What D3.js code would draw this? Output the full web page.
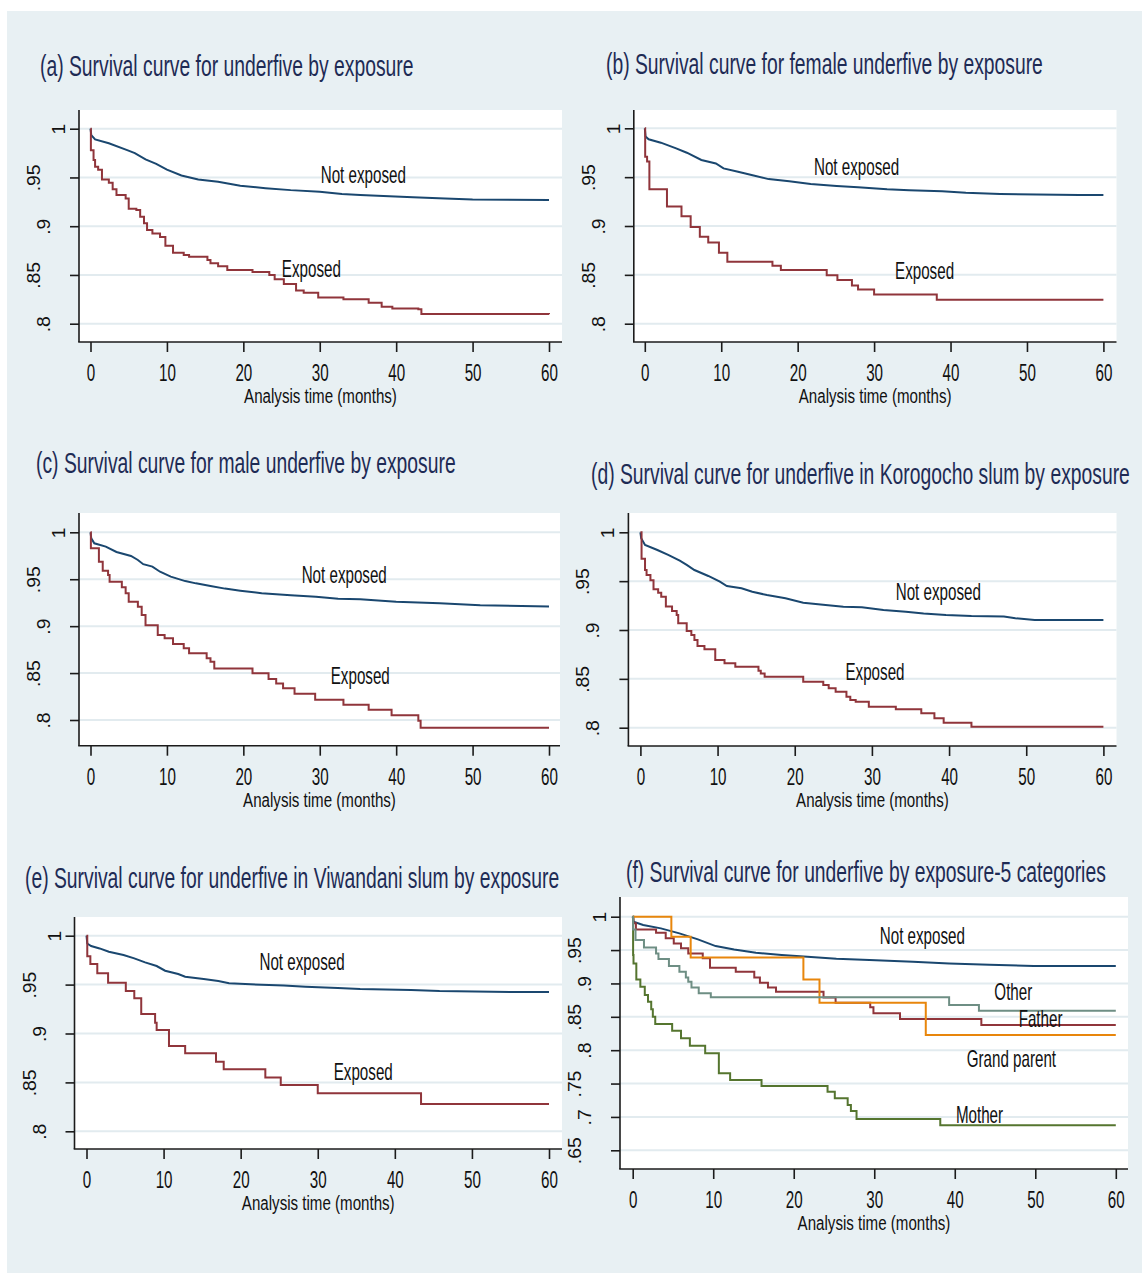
<!DOCTYPE html>
<html><head><meta charset="utf-8">
<script src="https://cdn.jsdelivr.net/npm/d3@7"></script>
<style>body{margin:0;background:#fff}svg{display:block}</style>
</head><body>
<svg id="c" width="1142" height="1273"></svg>
<script>
// ---------------- DATA ----------------
const xTicks = [0, 10, 20, 30, 40, 50, 60];
const xTickLabels = ["0", "10", "20", "30", "40", "50", "60"];
const yTicksMain = [1, 0.95, 0.9, 0.85, 0.8];
const yTickLabelsMain = ["1", ".95", ".9", ".85", ".8"];
const yTicksF = [1, 0.95, 0.9, 0.85, 0.8, 0.75, 0.7, 0.65];
const yTickLabelsF = ["1", ".95", ".9", ".85", ".8", ".75", ".7", ".65"];
const xAxisTitle = "Analysis time (months)";

const titles = [
  "(a) Survival curve for underfive by exposure",
  "(b) Survival curve for female underfive by exposure",
  "(c) Survival curve for male underfive by exposure",
  "(d) Survival curve for underfive in Korogocho slum by exposure",
  "(e) Survival curve for underfive in Viwandani slum by exposure",
  "(f) Survival curve for underfive by exposure-5 categories"
];

// [time (months), survival]
const a_notExposed = [[0,1],[0.1,0.9935],[0.6,0.989],[2.4,0.985],[4.8,0.978],[5.8,0.975],[7.2,0.9685],[8.6,0.964],[10,0.958],[11.9,0.952],[14.1,0.948],[16.7,0.9456],[19.6,0.9415],[22.9,0.939],[26.2,0.937],[30,0.9354],[32.9,0.933],[35.3,0.932],[39.1,0.9306],[42.2,0.9296],[46.4,0.9285],[50,0.9275],[60,0.9268]];
const a_exposed = [[0,1],[0.05,0.978],[0.4,0.968],[0.6,0.961],[1,0.958],[1.5,0.948],[2.4,0.9446],[2.9,0.938],[3.4,0.932],[4.6,0.9285],[5,0.918],[6,0.9166],[6.5,0.9097],[7,0.903],[7.4,0.896],[8.1,0.8926],[9.1,0.889],[9.8,0.88],[10.8,0.8728],[12.2,0.8704],[12.9,0.8687],[15.3,0.8653],[15.7,0.862],[16.7,0.859],[17.9,0.855],[21.2,0.853],[23.4,0.85],[24.1,0.8455],[25.3,0.8407],[26.9,0.834],[27.9,0.8318],[29.8,0.827],[33.1,0.825],[36.4,0.8215],[38.1,0.8174],[39.5,0.8157],[42.9,0.8147],[43.3,0.81],[60,0.8096]];

const b_notExposed = [[0,1],[0.1,0.9915],[0.5,0.9887],[2.1,0.9853],[4.1,0.9795],[5.5,0.975],[7.4,0.9676],[9.3,0.964],[10.3,0.959],[12.2,0.9556],[14.1,0.952],[16.2,0.948],[18.9,0.9457],[21.7,0.943],[25.1,0.941],[27.9,0.9396],[31.7,0.9375],[34.6,0.9365],[38.9,0.9355],[42,0.934],[46.5,0.9328],[56.8,0.9317],[60,0.9317]];
const b_exposed = [[0,1],[0.05,0.971],[0.3,0.966],[0.6,0.9375],[2.9,0.92],[4.8,0.91],[6,0.899],[7.2,0.889],[8.3,0.883],[9.7,0.8727],[10.8,0.8635],[16.7,0.8594],[17.8,0.855],[23.8,0.8495],[25.2,0.8447],[27.1,0.839],[27.9,0.835],[30,0.83],[38.2,0.8246],[60,0.8246]];

const c_notExposed = [[0,1],[0.1,0.9936],[0.5,0.9883],[2,0.9847],[3.4,0.979],[5.3,0.9748],[6.2,0.9705],[6.9,0.966],[8.1,0.9634],[9.1,0.958],[10.5,0.9528],[12.4,0.948],[13.8,0.9456],[15.7,0.9428],[17.6,0.94],[19.6,0.9378],[22.4,0.935],[26.2,0.933],[29.5,0.9314],[32.4,0.9293],[35.3,0.9286],[38.1,0.927],[40,0.926],[45.7,0.9243],[51,0.9222],[60,0.921]];
const c_exposed = [[0,1],[0.05,0.983],[1.1,0.9687],[1.6,0.959],[2.3,0.9545],[2.5,0.9474],[4.1,0.9414],[4.6,0.935],[5,0.926],[6.2,0.9208],[6.7,0.912],[7.2,0.901],[8.8,0.8906],[9.7,0.887],[10.8,0.881],[12.2,0.8764],[12.9,0.871],[15.2,0.8657],[15.7,0.862],[16.2,0.855],[21.2,0.8497],[23.3,0.8437],[24.3,0.839],[25.2,0.8337],[26.7,0.828],[29.4,0.8216],[33.1,0.8163],[36.4,0.811],[39.4,0.805],[42.9,0.7993],[43.2,0.7918],[60,0.7918]];

const d_notExposed = [[0,1],[0.1,0.9939],[0.6,0.987],[2.2,0.9819],[3.6,0.9768],[5.1,0.971],[6,0.9666],[7,0.9614],[8.8,0.9553],[10.3,0.9495],[11.2,0.945],[13.1,0.9427],[14.5,0.9392],[16.4,0.9358],[18.8,0.9324],[21.1,0.928],[24,0.9256],[26.3,0.9239],[28.7,0.9232],[31.5,0.9205],[34.4,0.9188],[36.7,0.917],[39.6,0.9154],[42.9,0.9143],[47.1,0.9137],[48.6,0.912],[51.1,0.9102],[60,0.9102]];
const d_exposed = [[0,1],[0.15,0.973],[0.6,0.9614],[0.8,0.9563],[1.3,0.951],[1.7,0.9416],[2.3,0.9382],[2.7,0.934],[3.3,0.924],[4.1,0.9195],[4.7,0.9154],[4.9,0.9068],[6,0.899],[6.6,0.8949],[7,0.8898],[7.4,0.8836],[8.3,0.8802],[9.7,0.8693],[10.9,0.8659],[12.3,0.8625],[15.3,0.8584],[15.6,0.8556],[16.1,0.8522],[21.1,0.8471],[23.7,0.8437],[24.4,0.8403],[25.3,0.8369],[26.7,0.8317],[27.2,0.8283],[27.9,0.8266],[29.6,0.8215],[33.1,0.8188],[36.4,0.8147],[38.1,0.8096],[39.3,0.8051],[42.9,0.801],[60,0.801]];

const e_notExposed = [[0,1],[0.1,0.992],[0.6,0.9894],[1.7,0.987],[2.9,0.9836],[4.8,0.9802],[6.2,0.9768],[7.6,0.9727],[9.1,0.969],[10.2,0.9642],[11.9,0.9608],[12.8,0.958],[15.2,0.9557],[17.1,0.9537],[18.5,0.9513],[21.3,0.9503],[25.6,0.9492],[28.4,0.9479],[32.6,0.9465],[35.5,0.9455],[42.1,0.9445],[45.8,0.9434],[55.8,0.9424],[60,0.9424]];
const e_exposed = [[0,1],[0.1,0.979],[0.5,0.971],[1.4,0.9615],[2.8,0.952],[5.1,0.9434],[6.2,0.936],[7.1,0.92],[8.9,0.911],[9.1,0.9036],[10.7,0.8872],[12.8,0.8797],[16.8,0.8712],[17.8,0.8634],[23.2,0.8549],[25.2,0.8474],[30,0.8388],[43.4,0.828],[60,0.828]];

const f_notExposed = [[0,1],[0.1,0.9925],[1.3,0.9875],[3.5,0.9825],[5.8,0.975],[8.1,0.966],[10.3,0.956],[12.6,0.951],[15.3,0.946],[18.5,0.9426],[21.7,0.94],[25.3,0.937],[29.4,0.935],[34.8,0.9326],[39.3,0.93],[44.3,0.928],[49.8,0.926],[60,0.926]];
const f_father = [[0,1],[0.1,0.99],[0.4,0.981],[2.9,0.976],[4.1,0.9676],[5.1,0.96],[6,0.9526],[6.9,0.945],[8.7,0.9376],[9.6,0.9236],[12.8,0.9176],[15.1,0.909],[15.8,0.901],[16.8,0.894],[17.8,0.8877],[23.7,0.879],[25.2,0.8712],[29.5,0.8642],[29.9,0.8552],[33.2,0.8467],[43.3,0.8377],[60,0.8377]];
const f_mother = [[0,1],[0.05,0.9426],[0.1,0.93],[0.45,0.906],[0.95,0.895],[1.5,0.8827],[1.9,0.8727],[2.3,0.8612],[2.5,0.8502],[2.8,0.8392],[4.9,0.8293],[6,0.8178],[7.1,0.8068],[9,0.7953],[10.7,0.7654],[12.1,0.7554],[16,0.7464],[24.2,0.7379],[25.1,0.7279],[26.7,0.7179],[27.1,0.7089],[27.8,0.697],[38.2,0.6875],[60,0.6875]];
const f_grandParent = [[0,1],[4.8,0.97],[7.2,0.939],[21.2,0.906],[23.2,0.8712],[36.4,0.8228],[60,0.8228]];
const f_other = [[0,1],[0.05,0.981],[0.35,0.965],[1.4,0.954],[2.9,0.945],[3.2,0.9366],[4.5,0.926],[5.8,0.9176],[6.6,0.909],[6.9,0.9026],[7.3,0.894],[8.2,0.8852],[9.7,0.8792],[39.3,0.8677],[43,0.8592],[60,0.8592]];

// curve labels: [text, time, survival]
const labels_a = [["Not exposed", 35.7, 0.9515], ["Exposed", 28.9, 0.855]];
const labels_b = [["Not exposed", 27.7, 0.9594], ["Exposed", 36.6, 0.853]];
const labels_c = [["Not exposed", 33.2, 0.9534], ["Exposed", 35.3, 0.8461]];
const labels_d = [["Not exposed", 38.6, 0.9376], ["Exposed", 30.4, 0.8557]];
const labels_e = [["Not exposed", 27.96, 0.9718], ["Exposed", 35.9, 0.8593]];
const labels_f = [["Not exposed", 35.97, 0.970], ["Other", 47.27, 0.8852], ["Father", 50.66, 0.8452], ["Grand parent", 47.03, 0.7853], ["Mother", 43.07, 0.7014]];

// ---------------- STYLE / LAYOUT ----------------
const BG = "#e8f0f3", GRID = "#e2ebef", AX = "#1b1b1b";
const NAVY = "#1a476f", MAROON = "#90353b", GREEN = "#55752f", ORANGE = "#e8860c", TEAL = "#6e8e84";
const FONT = "'Liberation Sans', Arial, Helvetica, sans-serif";
const SQ = 0.66;

const panels = [
  {title: titles[0], tx: 40, ty: 76, rect: [79, 562, 110, 342], xr: [90.5, 549], yd: [0.8, 1], yr: [323.7, 128.7], yt: yTicksMain, yl: yTickLabelsMain,
   series: [[a_notExposed, NAVY, true], [a_exposed, MAROON, false]], labels: labels_a},
  {title: titles[1], tx: 606, ty: 74, rect: [633.8, 1116.5, 110, 342], xr: [644.8, 1103.4], yd: [0.8, 1], yr: [323.7, 128.3], yt: yTicksMain, yl: yTickLabelsMain,
   series: [[b_notExposed, NAVY, true], [b_exposed, MAROON, false]], labels: labels_b},
  {title: titles[2], tx: 36, ty: 473, rect: [79, 560, 513, 745.7], xr: [90.5, 549], yd: [0.8, 1], yr: [720, 532.3], yt: yTicksMain, yl: yTickLabelsMain,
   series: [[c_notExposed, NAVY, true], [c_exposed, MAROON, false]], labels: labels_c},
  {title: titles[3], tx: 591, ty: 484, rect: [628.4, 1116.5, 513, 746], xr: [640.4, 1103.4], yd: [0.8, 1], yr: [727.7, 532.3], yt: yTicksMain, yl: yTickLabelsMain,
   series: [[d_notExposed, NAVY, true], [d_exposed, MAROON, false]], labels: labels_d},
  {title: titles[4], tx: 25, ty: 888, rect: [74.5, 562, 917, 1149], xr: [86.5, 549], yd: [0.8, 1], yr: [1131.3, 935.7], yt: yTicksMain, yl: yTickLabelsMain,
   series: [[e_notExposed, NAVY, true], [e_exposed, MAROON, false]], labels: labels_e},
  {title: titles[5], tx: 626, ty: 882, rect: [620, 1128, 897, 1169], xr: [632.7, 1115.8], yd: [0.65, 1], yr: [1150.3, 916.7], yt: yTicksF, yl: yTickLabelsF,
   series: [[f_notExposed, NAVY, true], [f_father, MAROON, false], [f_mother, GREEN, false], [f_grandParent, ORANGE, false], [f_other, TEAL, false]], labels: labels_f}
];

const yLabOff = {1: 14, 2: 29, 3: 39};

// ---------------- DRAW ----------------
const svg = d3.select("#c");
svg.append("rect").attr("x", 7).attr("y", 11).attr("width", 1135).attr("height", 1262).attr("fill", BG);

panels.forEach(p => {
  const g = svg.append("g");
  const [rx0, rx1, ry0, ry1] = p.rect;
  const x = d3.scaleLinear().domain([0, 60]).range(p.xr);
  const y = d3.scaleLinear().domain(p.yd).range(p.yr);

  g.append("rect").attr("x", rx0).attr("y", ry0).attr("width", rx1 - rx0).attr("height", ry1 - ry0).attr("fill", "#fff");

  g.selectAll("line.grid").data(p.yt).join("line").attr("class", "grid")
    .attr("x1", rx0).attr("x2", rx1).attr("y1", d => y(d)).attr("y2", d => y(d))
    .attr("stroke", GRID).attr("stroke-width", 2);

  const stepLine = d3.line().x(d => x(d[0])).y(d => y(d[1])).curve(d3.curveStepAfter);
  const smoothLine = d3.line().x(d => x(d[0])).y(d => y(d[1])).curve(d3.curveLinear);
  p.series.forEach(([data, col, smooth]) => {
    g.append("path").attr("d", (smooth ? smoothLine : stepLine)(data)).attr("fill", "none").attr("stroke", col)
      .attr("stroke-width", 2).attr("stroke-linejoin", "miter");
  });

  // x axis
  const gx = g.append("g").attr("transform", `translate(0,${ry1})`)
    .call(d3.axisBottom(x).tickValues(xTicks).tickSize(10).tickSizeOuter(0).tickFormat((d, i) => xTickLabels[i]));
  gx.select(".domain").remove();
  gx.selectAll(".tick line").attr("stroke", AX).attr("stroke-width", 1.6);
  gx.selectAll(".tick text").attr("y", 39).attr("dy", null).attr("transform", `scale(${SQ},1)`)
    .attr("fill", "#111").attr("font-family", FONT).attr("font-size", 23);

  // y axis
  const gy = g.append("g").attr("transform", `translate(${rx0},0)`)
    .call(d3.axisLeft(y).tickValues(p.yt).tickSize(9).tickSizeOuter(0).tickFormat((d, i) => p.yl[i]));
  gy.select(".domain").remove();
  gy.selectAll(".tick line").attr("stroke", AX).attr("stroke-width", 1.6);
  gy.selectAll(".tick text").attr("x", 0).attr("dy", null).attr("text-anchor", "middle")
    .attr("transform", (d, i) => `translate(${-yLabOff[p.yl[i].length]},0) rotate(-90) scale(0.84,0.82)`)
    .attr("fill", "#111").attr("font-family", FONT).attr("font-size", 23);

  // axis lines
  g.append("line").attr("x1", rx0).attr("x2", rx0).attr("y1", ry0).attr("y2", ry1).attr("stroke", AX).attr("stroke-width", 1.6);
  g.append("line").attr("x1", rx0 - 0.8).attr("x2", rx1).attr("y1", ry1).attr("y2", ry1).attr("stroke", AX).attr("stroke-width", 1.6);

  // axis title
  g.append("text").attr("transform", `translate(${(rx0 + rx1) / 2},${ry1 + 61}) scale(0.72,1)`)
    .attr("text-anchor", "middle").attr("font-family", FONT).attr("font-size", 21).attr("fill", "#111").text(xAxisTitle);

  // curve labels
  p.labels.forEach(([t, tm, sv]) => {
    g.append("text").attr("transform", `translate(${x(tm)},${y(sv)}) scale(${SQ},1)`)
      .attr("dy", "0.3em").attr("text-anchor", "middle").attr("font-family", FONT).attr("font-size", 23)
      .attr("fill", "#111").text(t);
  });

  // panel title
  g.append("text").attr("transform", `translate(${p.tx},${p.ty}) scale(0.655,1)`)
    .attr("font-family", FONT).attr("font-size", 29.5).attr("fill", "#1e2b55").text(p.title);
});
</script>
</body></html>
